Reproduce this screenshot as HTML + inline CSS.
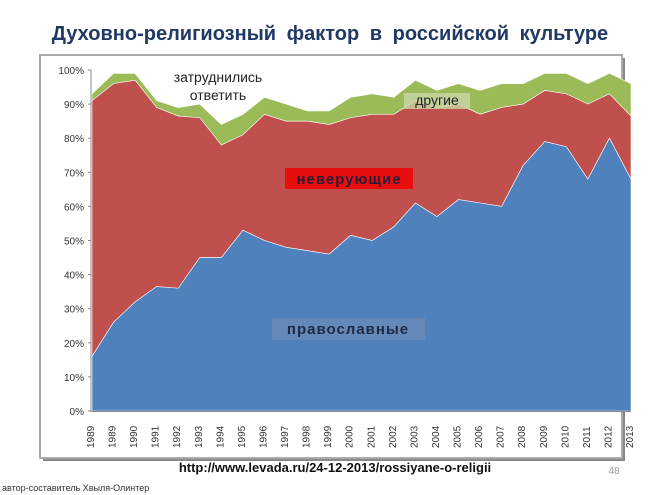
<!DOCTYPE html>
<html><head><meta charset="utf-8"><style>
body{margin:0;width:660px;height:495px;background:#fff;overflow:hidden;font-family:"Liberation Sans",sans-serif;position:relative}
</style></head><body>
<svg id="s" width="660" height="495" xmlns="http://www.w3.org/2000/svg" style="position:absolute;left:0;top:0">
<text x="330" y="40" text-anchor="middle" font-family="Liberation Sans, sans-serif" font-weight="bold" font-size="20" fill="#1f3864" word-spacing="5">Духовно-религиозный  фактор  в  российской  культуре</text>
<rect x="43" y="58" width="582" height="403" fill="#888"/>
<rect x="40" y="55" width="582" height="403" fill="#fff" stroke="#aaa" stroke-width="2"/>
<g id="areas"></g>
<line x1="91" y1="70" x2="91" y2="412" stroke="#888"/>
<line x1="91" y1="411.5" x2="631" y2="411.5" stroke="#888"/>
<g id="ax" font-family="Liberation Sans, sans-serif" font-size="10" fill="#333"></g>
<text x="218" y="82" text-anchor="middle" font-size="14" fill="#222">затруднились</text>
<text x="218" y="100" text-anchor="middle" font-size="14" fill="#222">ответить</text>
<rect x="285" y="168" width="128" height="21" fill="#e80e0e"/>
<text x="349" y="184" text-anchor="middle" font-size="15" font-weight="bold" fill="#2a1a3a" letter-spacing="1">неверующие</text>
<rect x="404" y="93" width="66" height="16" fill="#c9d7a8" opacity="0.8"/>
<text x="437" y="105" text-anchor="middle" font-size="14" fill="#222">другие</text>
<rect x="272" y="318" width="153" height="22" fill="#6e8db8" opacity="0.7"/>
<text x="348" y="334" text-anchor="middle" font-size="15" font-weight="bold" fill="#1f2a44" letter-spacing="1">православные</text>
<text x="335" y="472" text-anchor="middle" font-size="13" font-weight="bold" fill="#111">http://www.levada.ru/24-12-2013/rossiyane-o-religii</text>
<text x="614" y="474" text-anchor="middle" font-size="10" fill="#999">48</text>
<text x="2" y="491" font-size="9" fill="#333">автор-составитель Хвыля-Олинтер</text>
</svg>
<script>
var b=[16,26,32,36.5,36,45,45,53,50,48,47,46,51.5,50,54,61,57,62,61,60,72,79,77.5,68,80,68];
b=[16,26,32,36.5,36,45,45,53,50,48,47,46,51.5,50,54,61,57,62,61,60,72,79,77.5,68,80,68];
b=b.slice(0,25);b=[16,26,32,36.5,36,45,45,53,50,48,47,46,51.5,50,54,61,57,62,61,60,72,79,77.5,68,80,68].filter((v,i)=>i!=24||true).slice(0,26);
var B=[16,26,32,36.5,36,45,45,53,50,48,47,46,51.5,50,54,61,57,62,61,60,72,79,77.5,68,80,68];
B.splice(24,1);B=[16,26,32,36.5,36,45,45,53,50,48,47,46,51.5,50,54,61,57,62,61,60,72,79,77.5,68,80,68];
// 25 values
B=[16,26,32,36.5,36,45,45,53,50,48,47,46,51.5,50,54,61,57,62,61,60,72,79,77.5,68,80,68].slice(0,24).concat([68]);
B[23]=80;B[22]=68;B[21]=77.5;
var R=[91,96,97,89,86.5,86,78,81,87,85,85,84,86,87,87,91,89,90,87,89,90,94,93,90,93,86.5].slice(0,25);
R=[91,96,97,89,86.5,86,78,81,87,85,85,84,86,87,87,91,89,90,87,89,90,94,93,90,93,86.5];R.splice(21,1);
var G=[93,99,99,91,89,90,84,87,92,90,88,88,92,93,92,97,94,96,94,96,96,99,99,96,99,96];G.splice(21,1);
var yrs=["1989","1989","1990","1991","1992","1993","1994","1995","1996","1997","1998","1999","2000","2001","2002","2003","2004","2005","2006","2007","2008","2009","2010","2011","2012","2013"];
var n=25;yrs=yrs.slice(0,1).concat(yrs.slice(1,26));yrs.length=25;
yrs=["1989","1989","1990","1991","1992","1993","1994","1995","1996","1997","1998","1999","2000","2001","2002","2003","2004","2005","2006","2007","2008","2009","2010","2011","2012","2013"];
n=yrs.length;
function fit(a){while(a.length<n)a.push(a[a.length-1]);return a.slice(0,n);}
B=fit([16,26,32,36.5,36,45,45,53,50,48,47,46,51.5,50,54,61,57,62,61,60,72,79,77.5,68,80,68]);
R=fit([91,96,97,89,86.5,86,78,81,87,85,85,84,86,87,87,91,89,90,87,89,90,94,93,90,93,86.5]);
G=fit([93,99,99,91,89,90,84,87,92,90,88,88,92,93,92,97,94,96,94,96,96,99,99,96,99,96]);
var x0=92,x1=631,st=(x1-x0)/(n-1);
function X(i){return x0+i*st}function Y(v){return 411-v*3.41}
function poly(top,bot,col){var p=[];for(var i=0;i<n;i++)p.push(X(i)+","+Y(top[i]));for(var i=n-1;i>=0;i--)p.push(X(i)+","+Y(bot?bot[i]:0));return '<polygon points="'+p.join(" ")+'" fill="'+col+'" stroke="#fff" stroke-width="0.6"/>';}
var h=poly(G,R,"#9bbb59")+poly(R,B,"#c0504d")+poly(B,null,"#4f81bd");
document.getElementById("areas").innerHTML=h;
var a="";for(var k=0;k<=10;k++){var y=Y(k*10);a+='<text x="84" y="'+(y+4)+'" text-anchor="end">'+(k*10)+'%</text><line x1="88" x2="91" y1="'+y+'" y2="'+y+'" stroke="#888"/>';}
for(var i=0;i<n;i++){var x=X(i)-2;a+='<text transform="translate('+(x+4)+',448) rotate(-90)" font-size="10">'+yrs[i]+'</text>';}
document.getElementById("ax").innerHTML=a;
</script>
</body></html>
